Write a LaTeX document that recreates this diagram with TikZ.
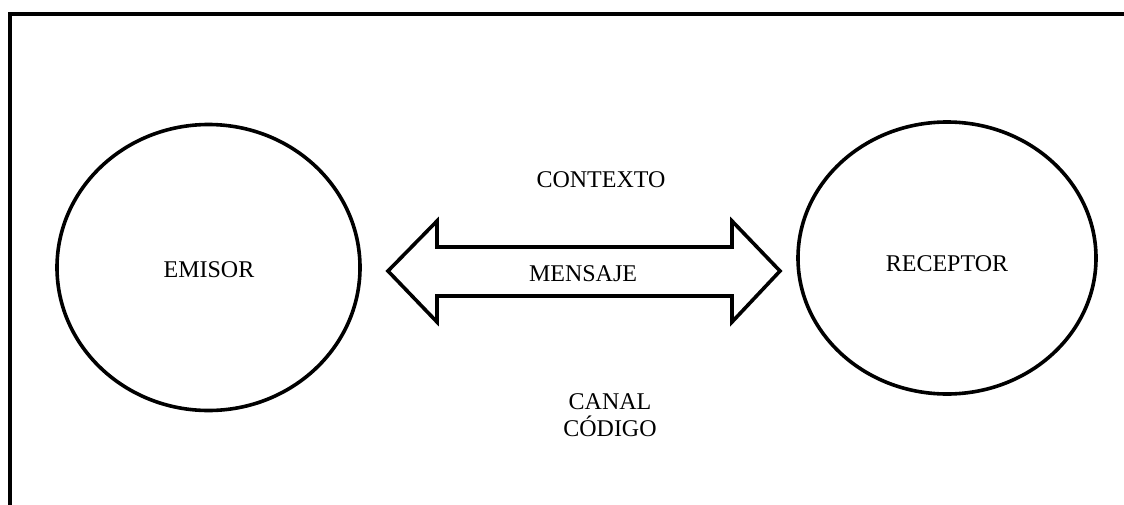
\documentclass[tikz,border=0pt]{standalone}
\usepackage{fontspec}
\setmainfont{Liberation Serif}
\usetikzlibrary{shapes.geometric}
\begin{document}
\begin{tikzpicture}[x=0.5pt,y=-0.5pt,
  every node/.style={font=\fontsize{12}{13.8}\selectfont},
  party/.style={draw,ellipse,line width=1.8pt,inner sep=0pt},
  label/.style={inner sep=0pt,align=center},
  msgarrow/.style={draw,line width=1.8pt,line join=miter}]
\useasboundingbox (0,0) rectangle (1124,504);
\clip (0,0) rectangle (1124,504);
\fill[white] (0,0) rectangle (1124,504);
\draw[line width=2pt] (10,14) rectangle (1150,530);
\node[party,minimum width=303pt*0.5,minimum height=286pt*0.5] (emisor) at (208.5,267.5) {};
\node[party,minimum width=298pt*0.5,minimum height=272pt*0.5] (receptor) at (947,258) {};
\node[label] (emisortxt) at (209,270) {EMISOR};
\node[label] (receptortxt) at (947,264) {RECEPTOR};
\draw[msgarrow] (388,271) -- (437,221) -- (437,247) -- (732,247) -- (732,221)
  -- (780,271) -- (732,322) -- (732,296) -- (437,296) -- (437,322) -- cycle;
\node[label] (mensaje) at (583,274) {MENSAJE};
\node[label] (contexto) at (601,180) {CONTEXTO};
\node[label] (canal) at (610,415) {CANAL\\CÓDIGO};
\end{tikzpicture}
\end{document}
